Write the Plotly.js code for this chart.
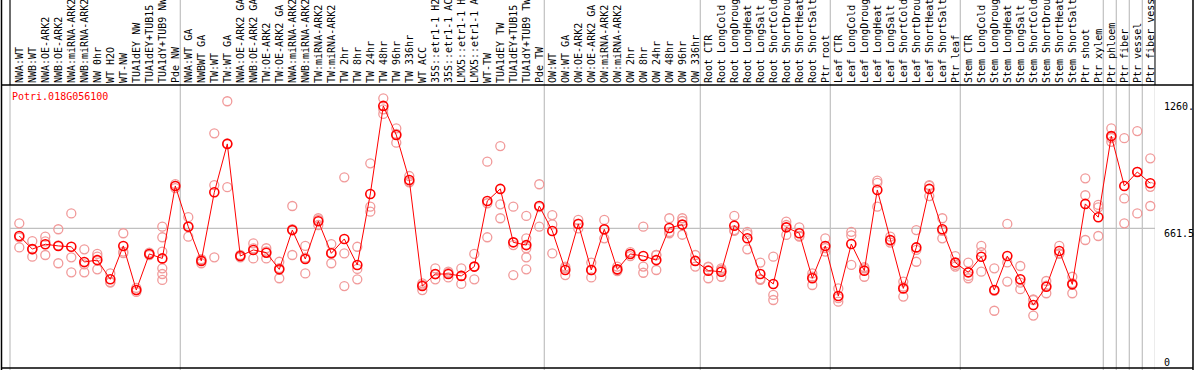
<!DOCTYPE html>
<html>
<head>
<meta charset="utf-8">
<script src="https://cdn.plot.ly/plotly-3.0.1.min.js"></script>
<style>html,body{margin:0;padding:0;background:#fff;overflow:hidden}</style>
</head>
<body>
<div id="chart" style="width:1194px;height:370px"></div>
<script>
const geneId = "Potri.018G056100";

const categories = [
  "NWA:WT","NWB:WT","NWA:OE-ARK2","NWB:OE-ARK2","NWA:miRNA-ARK2","NWB:miRNA-ARK2","NW 0hr","WT H2O","WT-NW","TUA1dEY NW","TUA1dEY+TUB15 NW","TUA1dY+TUB9 NW","Pde NW",
  "NWA:WT GA","NWBWT GA","TW:WT","TW:WT GA","NWA:OE-ARK2 GA","NWB:OE-ARK2 GA","TW:OE-ARK2","TW:OE-ARK2 GA","NWA:miRNA-ARK2 GA","NWB:miRNA-ARK2 GA","TW:miRNA-ARK2","TW:miRNA-ARK2 GA","TW 2hr","TW 8hr","TW 24hr","TW 48hr","TW 96hr","TW 336hr","WT ACC","35S::etr1-1 H2O","35S::etr1-1 ACC","LMX5::etr1-1 H2O","LMX5::etr1-1 ACC","WT-TW","TUA1dEY TW","TUA1dEY+TUB15 TW","TUA1dY+TUB9 TW","Pde TW",
  "OW:WT","OW:WT GA","OW:OE-ARK2","OW:OE-ARK2 GA","OW:miRNA-ARK2","OW:miRNA-ARK2 GA","OW 2hr","OW 8hr","OW 24hr","OW 48hr","OW 96hr","OW 336hr",
  "Root CTR","Root LongCold","Root LongDrought","Root LongHeat","Root LongSalt","Root ShortCold","Root ShortDrought","Root ShortHeat","Root ShortSalt","Ptr root",
  "Leaf CTR","Leaf LongCold","Leaf LongDrought","Leaf LongHeat","Leaf LongSalt","Leaf ShortCold","Leaf ShortDrought","Leaf ShortHeat","Leaf ShortSalt","Ptr leaf",
  "Stem CTR","Stem LongCold","Stem LongDrought","Stem LongHeat","Stem LongSalt","Stem ShortCold","Stem ShortDrought","Stem ShortHeat","Stem ShortSalt","Ptr shoot","Ptr xylem",
  "Ptr phloem","Ptr fiber","Ptr vessel","Ptr fiber vessel"
];

const groupSizes = [13, 28, 12, 10, 10, 11, 1, 1, 1, 1];

const meanValues = [
  625,563,586,578,574,502,511,420,578,369,540,519,862,
  669,507,832,1061,530,559,546,467,653,516,695,543,611,488,824,1241,1103,890,388,445,445,436,480,791,848,595,582,767,
  649,464,682,464,657,467,540,530,511,663,679,507,
  461,456,674,614,445,398,666,638,425,578,
  341,587,461,843,606,377,571,848,657,499,
  453,527,369,530,420,298,385,554,396,777,714,
  1098,862,928,875
];

const replicateValues = [
  [685,571,618],[601,527,562],[622,535,600],[657,496,580],[732,524,453],[562,453,491],[540,467,527],[448,406,406],[638,551,544],[379,360,369],[546,535,540],[669,619,551,472,445,417],[871,862,852],
  [714,622,672],[515,496,511],[1111,866,524],[1263,856,1063],[535,524,530],[590,519,566],[567,519,552],[503,425,473],[767,535,658],[578,448,522],[709,701,677],[587,496,546],[903,543,388],[574,420,469],[969,764,740],[1277,1225,1203],[1135,1067,1108],[909,882,879],[401,369,394],[472,420,444],[456,429,450],[472,398,437],[540,420,479],[977,780,619],[1051,775,709],[764,582,440],[720,614,567,524,467],[870,669,762],
  [724,680,543],[480,440,473],[701,661,683],[499,429,464],[701,614,655],[480,464,459],[549,540,530],[669,480,451],[535,464,535],[709,638,644],[709,631,696],[535,480,507],
  [480,425,478],[472,432,464],[720,653,649],[645,562,634],[499,417,421],[527,346,322],[630,693,677],[666,622,625],[448,393,432],[614,551,568],
  [377,314,331],[645,488,628],[472,432,478],[877,764,887],[622,603,594],[409,338,385],[653,503,559],[866,814,862],[709,614,649],[530,480,488],
  [499,425,436],[578,456,548],[472,271,365],[682,409,500],[483,373,404],[325,248,322],[412,354,390],[578,543,541],[432,354,402],[898,818,606],[772,761,625],
  [1135,1071,1089],[1088,803,685],[1122,732,929],[993,858,767]
];

const yTickValues = [0, 661.5, 1260];
const yTickText = ["0", "661.5", "1260."];

// ---- build traces ----
const idx = categories.map((_, i) => i);
const repX = [], repY = [];
replicateValues.forEach((arr, i) => arr.forEach(v => { repX.push(i); repY.push(v); }));

const FONT = "DejaVu Sans Mono, monospace";

const traces = [
  {
    x: repX, y: repY, type: "scatter", mode: "markers", hoverinfo: "skip",
    marker: {symbol: "circle-open", size: 9, color: "#f19a9a", line: {width: 1.3, color: "#f19a9a"}},
    cliponaxis: false
  },
  {
    x: idx, y: meanValues, type: "scatter", mode: "lines+markers",
    line: {color: "#ff0000", width: 1},
    marker: {symbol: "circle-open", size: 9, color: "#ff0000", line: {width: 1.6, color: "#ff0000"}},
    cliponaxis: false
  }
];

// ---- shapes ----
const W = 1194, L = 10, R = 1155, T = 85, B = 368;
const pw = R - L, ph = B - T;
const px = p => (p - L) / pw;
const py = p => (B - p) / ph;
const shapes = [];
const gray = "#c0c0c0";
// group separators
shapes.push({type: "line", xref: "paper", yref: "paper", x0: 0, x1: 0, y0: py(370), y1: py(0), line: {color: gray, width: 1.2}, layer: "below"});
let cum = 0;
groupSizes.forEach(s => {
  cum += s;
  const xv = cum - 1 + 0.385;
  shapes.push({type: "line", xref: "x", yref: "paper", x0: xv, x1: xv, y0: py(370), y1: py(0), line: {color: gray, width: 1.2}, layer: "below"});
});
// grid line at middle tick
shapes.push({type: "line", xref: "paper", yref: "y", x0: 0, x1: 1, y0: yTickValues[1], y1: yTickValues[1], line: {color: gray, width: 1.2}, layer: "below"});
// frame
const blk = {color: "#000", width: 1.5};
shapes.push({type: "line", xref: "paper", yref: "paper", x0: px(1.5), x1: px(1.5), y0: py(370), y1: py(0), line: blk});
shapes.push({type: "line", xref: "paper", yref: "paper", x0: px(1193), x1: px(1193), y0: py(370), y1: py(0), line: blk});
shapes.push({type: "line", xref: "paper", yref: "paper", x0: px(1.5), x1: px(1193), y0: 0, y1: 0, line: blk});
shapes.push({type: "line", xref: "paper", yref: "paper", x0: px(1.5), x1: px(1193), y0: 1, y1: 1, line: blk});
shapes.push({type: "line", xref: "paper", yref: "paper", x0: 0, x1: 0, y0: 1, y1: py(0), line: {color: "#000", width: 1}});
shapes.push({type: "line", xref: "paper", yref: "paper", x0: 1, x1: 1, y0: 1, y1: py(0), line: {color: "#000", width: 1}});

// ---- annotations ----
const annotations = [{
  xref: "paper", yref: "paper", x: 0, y: py(97), xanchor: "left", yanchor: "middle",
  text: geneId, showarrow: false, font: {family: FONT, size: 10, color: "#ff0000"}
}];
yTickValues.forEach((v, k) => {
  annotations.push({
    xref: "paper", yref: "y", x: 1, xshift: 7, y: v, yshift: v === 0 ? 6 : -5,
    xanchor: "left", yanchor: "middle", text: yTickText[k], showarrow: false,
    font: {family: FONT, size: 10, color: "#000"}
  });
});

const layout = {
  width: W, height: 370,
  margin: {l: L, r: W - R, t: T, b: 370 - B, pad: 0},
  paper_bgcolor: "#fff", plot_bgcolor: "#fff",
  showlegend: false,
  xaxis: {
    range: [-0.715, -0.715 + pw / 13], side: "top",
    tickmode: "array", tickvals: idx, ticktext: categories,
    tickangle: -90, ticks: "", ticklabelstandoff: 1,
    tickfont: {family: FONT, size: 10, color: "#000"},
    showgrid: false, zeroline: false, showline: false, automargin: false, fixedrange: true
  },
  yaxis: {
    range: [0, ph / 0.2112], showticklabels: false, ticks: "",
    showgrid: false, zeroline: false, showline: false, automargin: false, fixedrange: true
  },
  shapes: shapes,
  annotations: annotations
};

Plotly.newPlot("chart", traces, layout, {displayModeBar: false, staticPlot: true});
</script>
</body>
</html>
